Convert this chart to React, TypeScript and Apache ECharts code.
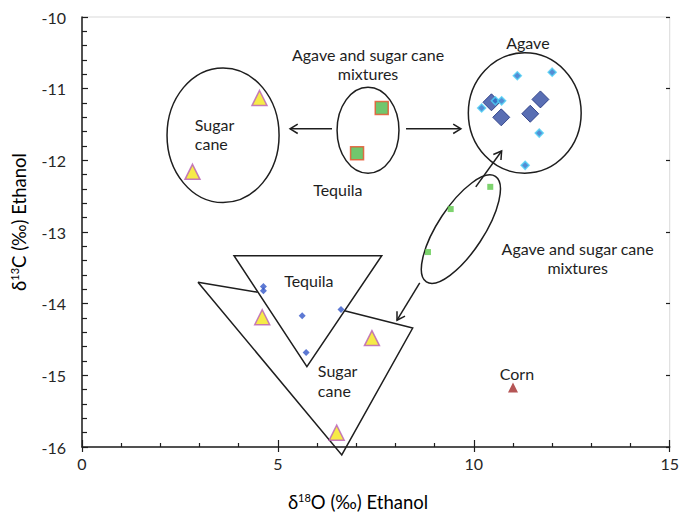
import React, { useEffect, useRef } from "react";
import * as echarts from "echarts";

// ---- data (δ18O, δ13C) ----
const sugarCaneX = [4.53, 2.82, 4.6, 7.4, 6.5];
const sugarCaneY = [-11.13, -12.16, -14.19, -14.48, -15.8];
const mixTequilaX = [7.65, 7.02];
const mixTequilaY = [-11.27, -11.9];
const mixOtherX = [10.42, 9.41, 8.83];
const mixOtherY = [-12.37, -12.68, -13.28];
const agaveLargeX = [10.45, 10.7, 11.44, 11.7];
const agaveLargeY = [-11.19, -11.4, -11.35, -11.15];
const agaveSmallX = [11.11, 12.0, 10.2, 10.55, 10.71, 11.67, 11.31];
const agaveSmallY = [-10.82, -10.77, -11.27, -11.17, -11.17, -11.62, -12.07];
const tequilaX = [4.63, 4.63, 5.62, 6.61, 5.72];
const tequilaY = [-13.76, -13.82, -14.17, -14.08, -14.68];
const cornX = [11.0];
const cornY = [-15.17];

const xTicks = [0, 5, 10, 15];
const yTicks = [-16, -15, -14, -13, -12, -11, -10];

// ---- annotation geometry (data units) ----
const ellipses = [
  { c: [3.6, -11.65], rx: 1.43, ry: 0.94 },
  { c: [7.3, -11.58], rx: 0.79, ry: 0.6 },
  { c: [11.3, -11.34], rx: 1.44, ry: 0.84 },
];
const tiltedCenter = [9.67, -12.96];
const arrows = [
  [[6.38, -11.56], [5.31, -11.56]],
  [[8.27, -11.56], [9.67, -11.56]],
  [[10.05, -12.37], [10.71, -11.87]],
  [[8.62, -13.71], [8.04, -14.23]],
];
const tequilaTriangle = [[3.88, -13.33], [7.65, -13.33], [5.74, -14.88]];
const sugarPolyA = [[2.96, -13.7], [4.48, -13.84]];
const sugarPolyB = [[6.7, -14.1], [8.44, -14.34], [6.63, -16.11], [2.96, -13.7]];
const notes = [
  { t: "Agave and sugar cane\nmixtures", p: [7.3, -10.655], a: "center" },
  { t: "Sugar\ncane", p: [2.88, -11.63], a: "left" },
  { t: "Tequila", p: [6.53, -12.4], a: "center" },
  { t: "Agave", p: [11.38, -10.36], a: "center" },
  { t: "Agave and sugar cane\nmixtures", p: [12.65, -13.36], a: "center" },
  { t: "Tequila", p: [5.79, -13.67], a: "center" },
  { t: "Sugar\ncane", p: [6.02, -15.07], a: "left" },
  { t: "Corn", p: [11.1, -14.97], a: "center" },
];

const zip = (xs: number[], ys: number[]) => xs.map((x, i) => [x, ys[i]]);
const FONT = "Lato";
const INK = "#1e1e1e";

export default function App() {
  const ref = useRef<HTMLDivElement>(null);
  useEffect(() => {
    const chart = echarts.init(ref.current!, null, { renderer: "svg" });
    const axisLine = { show: true, lineStyle: { color: INK, width: 1.5 } };
    const tickStyle = { color: INK, width: 1.2 };
    const option: any = {
      animation: false,
      backgroundColor: "#fff",
      grid: { left: 82, right: 12, top: 17, bottom: 68, show: true, borderColor: "#d9d9d9", borderWidth: 1 },
      xAxis: [
        {
          type: "value", min: xTicks[0], max: xTicks[xTicks.length - 1], interval: 5, position: "bottom",
          axisLine, splitLine: { show: false },
          axisTick: { show: true, inside: true, length: 7, lineStyle: tickStyle },
          minorTick: { show: true, splitNumber: 5, length: 4, lineStyle: tickStyle },
          axisLabel: { fontFamily: FONT, fontSize: 16, color: "#262626", margin: 8 },
        },
        {
          type: "value", min: xTicks[0], max: xTicks[xTicks.length - 1], interval: 5, position: "top", offset: -430,
          axisLine: { show: false }, splitLine: { show: false }, axisLabel: { show: false },
          axisTick: { show: true, inside: true, length: 5, lineStyle: tickStyle },
        },
      ],
      yAxis: [
        {
          type: "value", min: yTicks[0], max: yTicks[yTicks.length - 1], interval: 1, position: "left",
          axisLine, splitLine: { show: false },
          axisTick: { show: true, inside: true, length: 6, lineStyle: tickStyle },
          minorTick: { show: true, splitNumber: 5, length: 5, lineStyle: tickStyle },
          axisLabel: { fontFamily: FONT, fontSize: 16, color: "#262626", margin: 16 },
        },
        {
          type: "value", min: yTicks[0], max: yTicks[yTicks.length - 1], interval: 1, position: "right", offset: -588,
          axisLine: { show: false }, splitLine: { show: false }, axisLabel: { show: false },
          axisTick: { show: true, inside: true, length: 4, lineStyle: tickStyle },
        },
      ],
      series: [
        { type: "scatter", name: "Sugar cane", data: zip(sugarCaneX, sugarCaneY), symbol: "triangle", symbolSize: 15,
          itemStyle: { color: "#f4e61a", borderColor: "#b85cb8", borderWidth: 1.5 }, z: 5 },
        { type: "scatter", name: "Mixtures (tequila)", data: zip(mixTequilaX, mixTequilaY), symbol: "rect", symbolSize: 13,
          itemStyle: { color: "#4db848", borderColor: "#e8502a", borderWidth: 1.5 }, z: 5 },
        { type: "scatter", name: "Mixtures", data: zip(mixOtherX, mixOtherY), symbol: "rect", symbolSize: 6,
          itemStyle: { color: "#5cc84a" }, z: 5 },
        { type: "scatter", name: "Agave", data: zip(agaveLargeX, agaveLargeY), symbol: "diamond", symbolSize: 17,
          itemStyle: { color: "#2f4aa0", borderColor: "#1d2f7a", borderWidth: 1 }, z: 5 },
        { type: "scatter", name: "Agave (small)", data: zip(agaveSmallX, agaveSmallY), symbol: "diamond", symbolSize: 8,
          itemStyle: { color: "#2a6fc9", borderColor: "#4fd0f5", borderWidth: 1.5 }, z: 6 },
        { type: "scatter", name: "Tequila", data: zip(tequilaX, tequilaY), symbol: "diamond", symbolSize: 7,
          itemStyle: { color: "#3557c8" }, z: 5 },
        { type: "scatter", name: "Corn", data: zip(cornX, cornY), symbol: "triangle", symbolSize: 10,
          itemStyle: { color: "#a32a2a" }, z: 5 },
      ],
    };
    chart.setOption(option);

    const toPx = (p: number[]) => chart.convertToPixel({ seriesIndex: 0 }, p) as number[];
    const stroke = { stroke: INK, lineWidth: 1.5, fill: "none" };
    const g: any[] = [];
    ellipses.forEach((e) => {
      const c = toPx(e.c);
      const r = toPx([e.c[0] + e.rx, e.c[1] + e.ry]);
      g.push({ type: "ellipse", shape: { cx: c[0], cy: c[1], rx: Math.abs(r[0] - c[0]), ry: Math.abs(r[1] - c[1]) }, style: { ...stroke }, z: 1 });
    });
    const tc = toPx(tiltedCenter);
    g.push({ type: "ellipse", x: tc[0], y: tc[1], rotation: -0.58, shape: { cx: 0, cy: 0, rx: 23, ry: 63 }, style: { ...stroke }, z: 1 });
    arrows.forEach(([a, b]) => {
      const p0 = toPx(a), p1 = toPx(b);
      g.push({ type: "line", shape: { x1: p0[0], y1: p0[1], x2: p1[0], y2: p1[1] }, style: { ...stroke }, z: 1 });
      const ang = Math.atan2(p1[1] - p0[1], p1[0] - p0[0]);
      const L = 9, w = 0.55;
      const h1 = [p1[0] - L * Math.cos(ang - w), p1[1] - L * Math.sin(ang - w)];
      const h2 = [p1[0] - L * Math.cos(ang + w), p1[1] - L * Math.sin(ang + w)];
      g.push({ type: "polyline", shape: { points: [h1, p1, h2] }, style: { ...stroke }, z: 1 });
    });
    g.push({ type: "polygon", shape: { points: tequilaTriangle.map(toPx) }, style: { ...stroke }, z: 1 });
    g.push({ type: "polyline", shape: { points: sugarPolyA.map(toPx) }, style: { ...stroke }, z: 1 });
    g.push({ type: "polyline", shape: { points: sugarPolyB.map(toPx) }, style: { ...stroke }, z: 1 });
    notes.forEach((n) => {
      const p = toPx(n.p);
      g.push({ type: "text", x: p[0], y: p[1], z: 2,
        style: { text: n.t, font: `16px ${FONT}`, fill: INK, align: n.a, verticalAlign: "middle", lineHeight: 19.5 } });
    });
    // axis titles
    const rich = {
      a: { fontFamily: FONT, fontSize: 18.5, color: INK, lineHeight: 22 },
      s: { fontFamily: FONT, fontSize: 11, color: INK, lineHeight: 22, verticalAlign: "top", padding: [1, 0, 0, 0] },
    };
    g.push({ type: "text", x: 358, y: 502, z: 2,
      style: { text: "{a|δ}{s|18}{a|O (‰) Ethanol}", rich, align: "center", verticalAlign: "middle" } });
    g.push({ type: "text", x: 19, y: 222, rotation: Math.PI / 2, z: 2,
      style: { text: "{a|δ}{s|13}{a|C (‰) Ethanol}", rich, align: "center", verticalAlign: "middle" } });
    chart.setOption({ graphic: g });
    return () => chart.dispose();
  }, []);
  return <div ref={ref} style={{ position: "fixed", left: 0, top: 0, width: 682, height: 515 }} />;
}
